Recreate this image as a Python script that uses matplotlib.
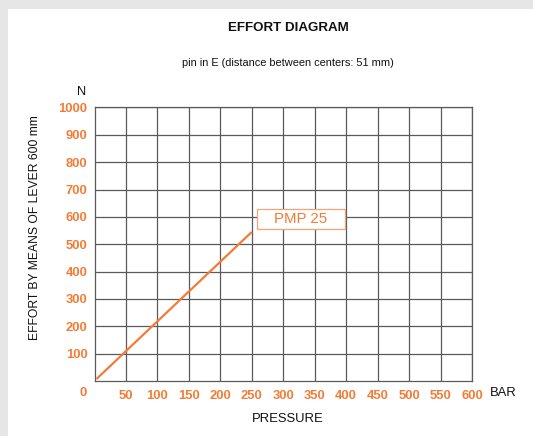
import matplotlib
matplotlib.use("Agg")
from matplotlib import pyplot as plt
from matplotlib.patches import Rectangle

plt.rcParams['font.family'] = ['Liberation Sans', 'DejaVu Sans']

# data
pressure = [3, 250]          # bar
effort = [7, 545]            # N
series_name = "PMP 25"
x_ticks = [50, 100, 150, 200, 250, 300, 350, 400, 450, 500, 550, 600]
y_ticks = [100, 200, 300, 400, 500, 600, 700, 800, 900, 1000]

orange = '#f47b35'
grid_col = '#5a5a5a'

W, H = 533, 436
fig = plt.figure(figsize=(W / 100, H / 100), dpi=100)
fig.patch.set_facecolor('#e6e6e6')
# white card with grey margin on top/left
fig.patches.append(Rectangle((8 / W, 0), 1, 1 - 9 / H, transform=fig.transFigure,
                             facecolor='white', edgecolor='none', zorder=-1))

ax = fig.add_axes([94.5 / W, 1 - 381 / H, (472 - 94.5) / W, (381 - 107.5) / H])
ax.set_xlim(0, 600)
ax.set_ylim(0, 1000)
ax.set_xticks(x_ticks)
ax.set_yticks(y_ticks)
ax.grid(True, color=grid_col, lw=0.9)
ax.set_axisbelow(True)
for s in ax.spines.values():
    s.set_color(grid_col)
    s.set_linewidth(0.9)
ax.tick_params(length=0, colors=orange, labelsize=9.4)
ax.tick_params(axis='x', pad=6.5)
ax.tick_params(axis='y', pad=5)
for lab in ax.get_xticklabels() + ax.get_yticklabels():
    lab.set_fontweight('bold')

ax.plot(pressure, effort, color=orange, lw=1.6, solid_capstyle='butt', zorder=3)
ax.add_patch(Rectangle((258, 556), 140, 73, facecolor='white', edgecolor='#f5a573',
                       lw=0.9, zorder=4))
ax.text(328, 592, series_name, color=orange, fontsize=10.8, ha='center', va='center', zorder=5)

# corner zero
ax.annotate('0', xy=(0, 0), xytext=(-11, -12), textcoords='offset pixels',
            ha='center', va='center', color=orange, fontsize=9.4, fontweight='bold')

fig.text(288 / W, 1 - 27.7 / H, 'EFFORT DIAGRAM', ha='center', va='center',
         fontsize=9.6, fontweight='bold', color='#111111')
fig.text(288 / W, 1 - 63 / H, 'pin in E (distance between centers: 51 mm)',
         ha='center', va='center', fontsize=7.9, color='#111111')
fig.text(82 / W, 1 - 92 / H, 'N', ha='center', va='center', fontsize=9.2, color='#111111')
fig.text(490 / W, 1 - 393.5 / H, 'BAR', ha='left', va='center', fontsize=9.4, color='#111111')
fig.text(288 / W, 1 - 419 / H, 'PRESSURE', ha='center', va='center', fontsize=9.4, color='#111111')
fig.text(35 / W, 1 - 228 / H, 'EFFORT BY MEANS OF LEVER 600 mm', ha='center', va='center',
         rotation=90, fontsize=8.7, color='#111111')

fig.savefig('out.png', dpi=100, facecolor=fig.get_facecolor())
